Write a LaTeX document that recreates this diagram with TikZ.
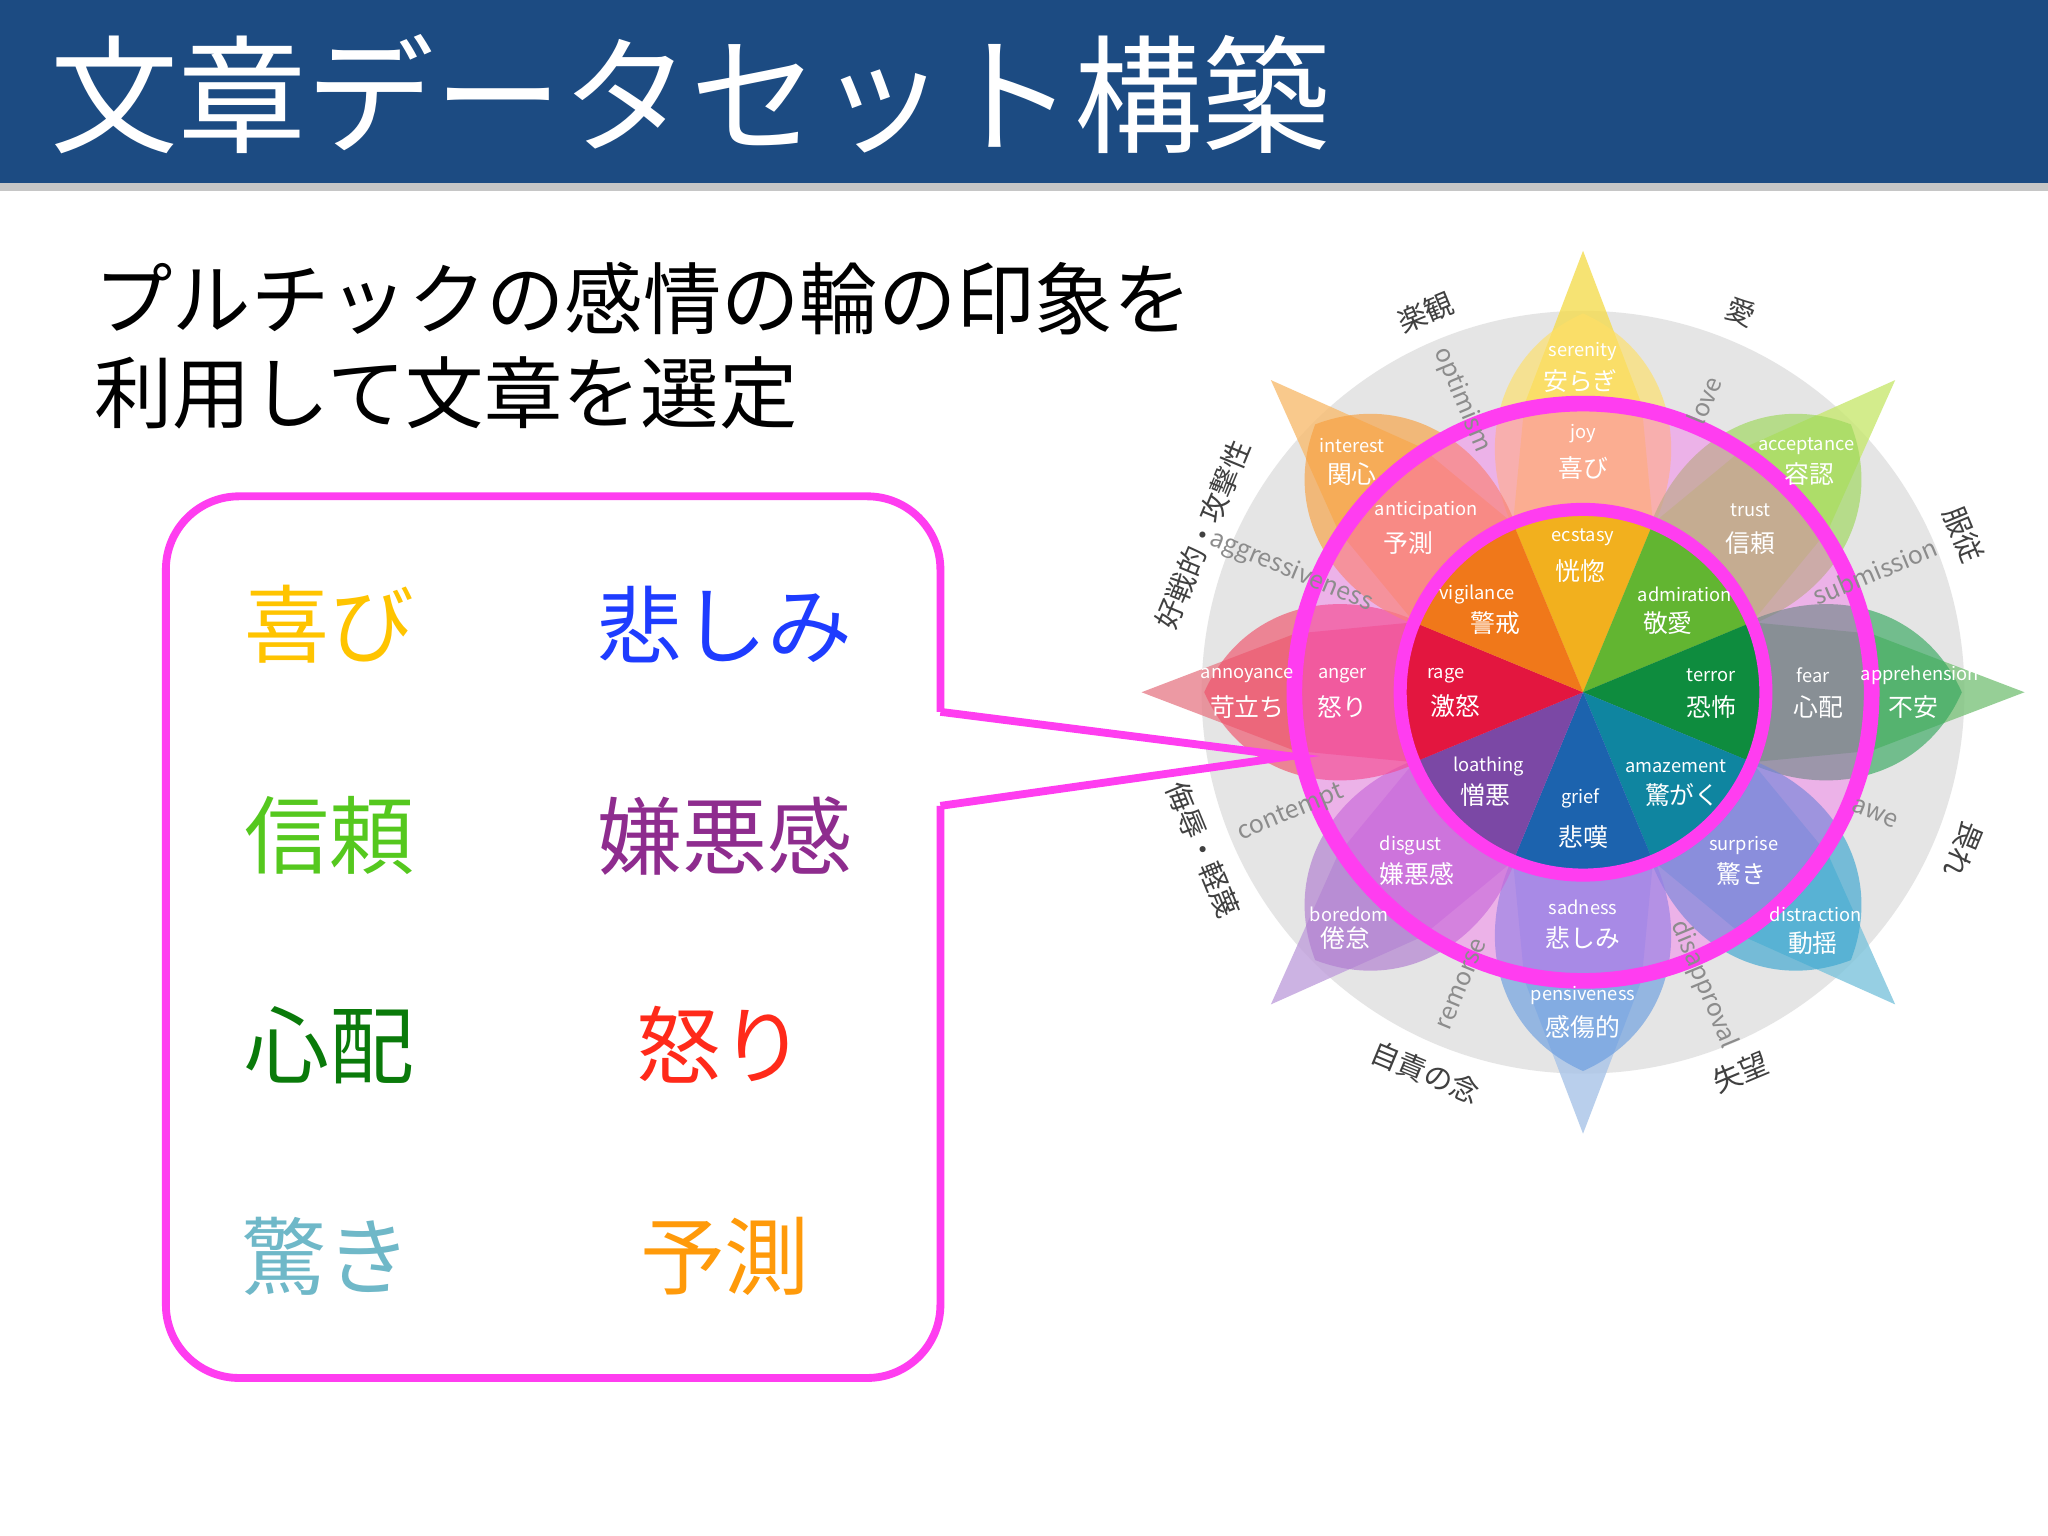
\documentclass[tikz,border=0pt]{standalone}
\usepackage{fontspec}
\setmainfont{Noto Sans CJK JP}
\definecolor{titleblue}{HTML}{1C4B82}
\definecolor{mag}{HTML}{FF3DF0}
\definecolor{wjoy}{HTML}{FFC400}\definecolor{wsad}{HTML}{1E3CFF}
\definecolor{wtru}{HTML}{55C81E}\definecolor{wdis}{HTML}{8E2C8E}
\definecolor{wfea}{HTML}{0A7A0A}\definecolor{wang}{HTML}{FF2A1A}
\definecolor{wsur}{HTML}{6FB8C8}\definecolor{want}{HTML}{FF9A0A}
% core
\definecolor{c90}{HTML}{F2B01E}\definecolor{c45}{HTML}{62B531}\definecolor{c0}{HTML}{0E8C3E}\definecolor{c-45}{HTML}{0F85A0}
\definecolor{c-90}{HTML}{1C63AE}\definecolor{c-135}{HTML}{7B48A5}\definecolor{c180}{HTML}{E3163F}\definecolor{c135}{HTML}{F0781A}
% middle
\definecolor{m90}{HTML}{FFE066}\definecolor{m45}{HTML}{9DD85A}\definecolor{m0}{HTML}{35A85E}\definecolor{m-45}{HTML}{3AA6D0}
\definecolor{m-90}{HTML}{6A9DE0}\definecolor{m-135}{HTML}{B07CD0}\definecolor{m180}{HTML}{F0506A}\definecolor{m135}{HTML}{F8A040}
% outer
\definecolor{o90}{HTML}{F4DC50}\definecolor{o45}{HTML}{C8E870}\definecolor{o0}{HTML}{7CC47C}\definecolor{o-45}{HTML}{7CC4DC}
\definecolor{o-90}{HTML}{A8C4E8}\definecolor{o-135}{HTML}{C0A0DC}\definecolor{o180}{HTML}{E8808C}\definecolor{o135}{HTML}{F8BC70}
\tikzset{
 en/.style={text=white,font=\fontsize{7}{8}\selectfont,inner sep=0pt},
 jp/.style={text=white,font=\fontsize{9.5}{10}\selectfont,inner sep=0pt},
 dy/.style={text=gray!90,font=\fontsize{9.5}{10}\selectfont,inner sep=0pt},
 dj/.style={text=black!75,font=\fontsize{11}{12}\selectfont,inner sep=0pt},
 word/.style={font=\fontsize{32.5}{34}\selectfont,inner sep=0pt}
}
\begin{document}
\begin{tikzpicture}[x=0.5pt,y=0.5pt]
\useasboundingbox (0,0) rectangle (1568,-1176);
\fill[white] (0,0) rectangle (1568,-1176);
% title
\fill[gray!45] (0,-138) rectangle (1568,-146);
\fill[titleblue] (0,0) rectangle (1568,-140);
\node[anchor=west,text=white,font=\fontsize{49}{52}\selectfont,inner sep=0pt] (title) at (38,-72) {文章データセット構築};
\node[anchor=north west,align=left,font=\fontsize{30}{36}\selectfont,inner sep=0pt] (sub) at (72,-200) {プルチックの感情の輪の印象を\\利用して文章を選定};
% wheel
\begin{scope}[shift={(1212,-530)}]
\fill[gray!20] (0,0) circle (292);
\foreach \a in {90,45,0,-45,-90,-135,180,135}{
  \fill[o\a,opacity=0.8] (\a:338) -- (\a+11.5:225) -- (\a+22.5:140) -- (0,0) -- (\a-22.5:140) -- (\a-11.5:225) -- cycle;
}
\foreach \a in {90,45,0,-45,-90,-135,180,135}{
  \begin{scope}[rotate=\a]
  \fill[m\a,opacity=0.65] (60,0) .. controls (130,90) and (250,90) .. (290,0) .. controls (250,-90) and (130,-90) .. (60,0);
  \end{scope}
}
\fill[mag,opacity=0.3] (0,0) circle (220);
\foreach \a in {90,45,0,-45,-90,-135,180,135}{
  \fill[c\a] (0,0) -- (\a-22.5:140) arc[start angle=\a-22.5,end angle=\a+22.5,radius=140] -- cycle;
}
\draw[mag,line width=6pt] (0,0) circle (221);
\draw[mag,line width=5pt] (0,0) circle (140);
\node[coordinate] (wc) at (0,0) {};
% dyads
\foreach \p/\e/\re/\j/\rj [count=\i] in {112.5/optimism/-67.5/楽観/22.5, 67.5/love/67.5/愛/-22.5, 22.5/submission/22.5/服従/-67.5, -22.5/awe/-22.5/畏れ/-112.5, -67.5/disapproval/-67.5/失望/22.5, -112.5/remorse/67.5/自責の念/-22.5, -157.5/contempt/22.5/侮辱・軽蔑/-67.5, 157.5/aggressiveness/-22.5/好戦的・攻撃性/67.5}{
  \node[dy,rotate=\re] (de\i) at (\p:242) {\e};
  \node[dj,rotate=\rj] (dj\i) at (\p:315) {\j};
}
\end{scope}
% wheel labels (absolute)
\foreach \x/\y/\e/\xx/\yy/\j [count=\i] in {
1212/411/ecstasy/1210/437/恍惚, 1290/455/admiration/1277/477/敬愛, 1310/517/terror/1310/541/恐怖, 1283/587/amazement/1288/609/驚がく,
1210/611/grief/1212/641/悲嘆, 1140/587/loathing/1137/609/憎悪, 1107/517/rage/1114/541/激怒, 1131/455/vigilance/1145/477/警戒,
1212/332/joy/1212/358/喜び, 1340/391/trust/1340/416/信頼, 1388/517/fear/1392/541/心配, 1335/647/surprise/1333/669/驚き,
1212/695/sadness/1212/718/悲しみ, 1080/647/disgust/1085/669/嫌悪感, 1028/517/anger/1028/541/怒り, 1092/391/anticipation/1078/416/予測,
1212/269/serenity/1210/292/安らぎ, 1383/342/acceptance/1385/363/容認, 1470/517/apprehension/1465/541/不安, 1390/700/distraction/1388/722/動揺,
1212/762/pensiveness/1212/786/感傷的, 1033/700/boredom/1030/718/倦怠, 955/517/annoyance/955/541/苛立ち, 1035/341/interest/1035/363/関心}{
  \node[en] (le\i) at (\x,-\y) {\e};
  \node[jp] (lj\i) at (\xx,-\yy) {\j};
}
% callout box
\draw[mag,line width=3pt,rounded corners=28pt] (720,-617) -- (720,-1055) -- (127,-1055) -- (127,-380) -- (720,-380) -- (720,-545);
\node[coordinate] (tip) at (988,-579) {};
\draw[mag,line width=3pt,line join=miter] (720,-545) -- (tip) -- (720,-617);
% words
\node[word,text=wjoy] (w1) at (252,-478) {喜び};
\node[word,text=wsad] (w2) at (555,-478) {悲しみ};
\node[word,text=wtru] (w3) at (252,-640) {信頼};
\node[word,text=wdis] (w4) at (555,-640) {嫌悪感};
\node[word,text=wfea] (w5) at (252,-800) {心配};
\node[word,text=wang] (w6) at (552,-800) {怒り};
\node[word,text=wsur] (w7) at (250,-962) {驚き};
\node[word,text=want] (w8) at (555,-962) {予測};
\end{tikzpicture}
\end{document}
